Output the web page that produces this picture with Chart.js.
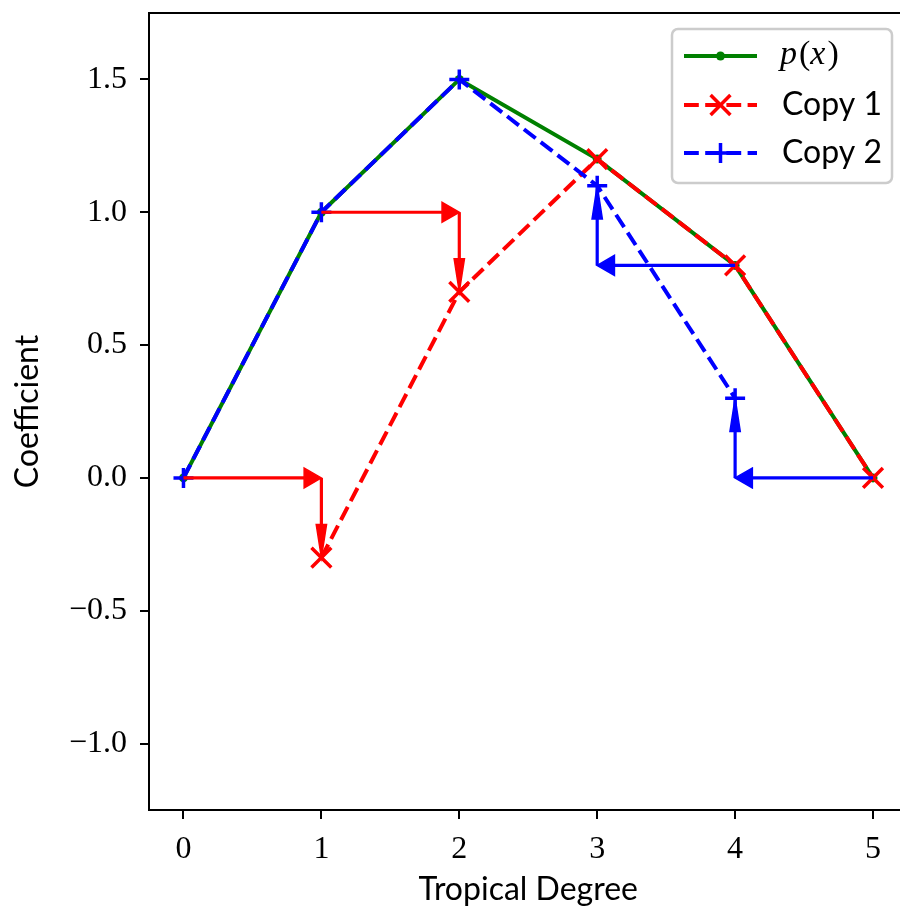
<!DOCTYPE html>
<html><head><meta charset="utf-8">
<script src="https://cdn.jsdelivr.net/npm/chart.js@4.4.1/dist/chart.umd.min.js"></script>
<style>
html,body{margin:0;padding:0;overflow:hidden;background:#fff;width:900px;height:909px}
#wrap{width:930px;height:909px;position:relative}
canvas{display:block}
</style></head>
<body><div id="wrap"><canvas id="c" width="930" height="909"></canvas></div>
<script>
// ---- data ----
const xTicks = [0, 1, 2, 3, 4, 5];
const yTicks = [-1.0, -0.5, 0, 0.5, 1.0, 1.5];
const pX = [0, 1, 2, 3, 4, 5];
const pY = [0, 1, 1.5, 1.2, 0.8, 0];
const copy1X = [1, 2, 3, 4, 5];
const copy1Y = [-0.3, 0.7, 1.2, 0.8, 0];
const copy2X = [0, 1, 2, 3, 4];
const copy2Y = [0, 1, 1.5, 1.1, 0.3];
const arrows1From = [[0, 0], [1, 0], [1, 1], [2, 1]];
const arrows1To   = [[1, 0], [1, -0.3], [2, 1], [2, 0.7]];
const arrows2From = [[5, 0], [4, 0], [4, 0.8], [3, 0.8]];
const arrows2To   = [[4, 0], [4, 0.3], [3, 0.8], [3, 1.1]];
const seriesLabels = ['p(x)', 'Copy 1', 'Copy 2'];
const xTitle = 'Tropical Degree';
const yTitle = 'Coefficient';

// ---- styles ----
const GREEN = '#008000', RED = '#ff0000', BLUE = '#0000ff';
const SANS = 'Lato, "Open Sans", sans-serif';
const SERIF = '"Liberation Serif", "DejaVu Serif", serif';
const HEAD_LEN = 0.125, HEAD_WID = 0.075;
const LW = 4;
const DASH = [14.8, 6.4];

const pts = (xs, ys) => xs.map((x, i) => ({x: x, y: ys[i]}));

const datasets = [
  {label: seriesLabels[0], data: pts(pX, pY), borderColor: GREEN, backgroundColor: GREEN,
   borderWidth: LW, pointStyle: 'circle', pointRadius: 4.5, pointBorderWidth: 0,
   pointBackgroundColor: GREEN, order: 3, tension: 0},
  {label: seriesLabels[1], data: pts(copy1X, copy1Y), borderColor: RED, backgroundColor: RED,
   borderWidth: LW, borderDash: DASH, pointStyle: 'crossRot', pointRadius: 14, pointBorderWidth: 3.5,
   pointBorderColor: RED, order: 2, tension: 0},
  {label: seriesLabels[2], data: pts(copy2X, copy2Y), borderColor: BLUE, backgroundColor: BLUE,
   borderWidth: LW, borderDash: DASH, pointStyle: 'cross', pointRadius: 10, pointBorderWidth: 3.5,
   pointBorderColor: BLUE, order: 1, tension: 0}
];

function drawArrow(ctx, xs, ys, from, to, color) {
  const x0 = xs.getPixelForValue(from[0]), y0 = ys.getPixelForValue(from[1]);
  const x1 = xs.getPixelForValue(to[0]), y1 = ys.getPixelForValue(to[1]);
  const horiz = from[1] === to[1];
  const pxX = Math.abs(xs.getPixelForValue(1) - xs.getPixelForValue(0));
  const pxY = Math.abs(ys.getPixelForValue(1) - ys.getPixelForValue(0));
  const hl = horiz ? HEAD_LEN * pxX : HEAD_LEN * pxY;
  const hw = (horiz ? HEAD_WID * pxY : HEAD_WID * pxX) / 2;
  const dx = x1 - x0, dy = y1 - y0, L = Math.hypot(dx, dy);
  const ux = dx / L, uy = dy / L, nx = -uy, ny = ux;
  const bx = x1 - ux * hl, by = y1 - uy * hl;
  ctx.strokeStyle = color; ctx.fillStyle = color;
  ctx.lineWidth = 3.2; ctx.setLineDash([]);
  ctx.beginPath(); ctx.moveTo(x0, y0); ctx.lineTo(bx, by); ctx.stroke();
  ctx.lineWidth = 1.5; ctx.lineJoin = 'miter';
  ctx.beginPath();
  ctx.moveTo(x1, y1);
  ctx.lineTo(bx + nx * hw, by + ny * hw);
  ctx.lineTo(bx - nx * hw, by - ny * hw);
  ctx.closePath(); ctx.fill(); ctx.stroke();
}

const arrowPlugin = {
  id: 'arrows',
  afterDatasetsDraw(chart) {
    const {ctx, chartArea, scales} = chart;
    ctx.save();
    ctx.beginPath();
    ctx.rect(chartArea.left, chartArea.top, chartArea.right - chartArea.left, chartArea.bottom - chartArea.top);
    ctx.clip();
    arrows1From.forEach((f, i) => drawArrow(ctx, scales.x, scales.y, f, arrows1To[i], RED));
    arrows2From.forEach((f, i) => drawArrow(ctx, scales.x, scales.y, f, arrows2To[i], BLUE));
    ctx.restore();
  }
};

const framePlugin = {
  id: 'frame',
  afterDraw(chart) {
    const {ctx, chartArea} = chart;
    ctx.save();
    ctx.strokeStyle = '#000'; ctx.lineWidth = 2;
    ctx.beginPath();
    ctx.moveTo(chartArea.left - 1, chartArea.top);
    ctx.lineTo(chartArea.right, chartArea.top);
    ctx.lineTo(chartArea.right, chartArea.bottom);
    ctx.stroke();
    ctx.restore();
  }
};

function marker(ctx, style, x, y, r) {
  ctx.beginPath();
  if (style === 'circle') { ctx.arc(x, y, r, 0, Math.PI * 2); ctx.fill(); return; }
  if (style === 'cross') {
    ctx.moveTo(x - r, y); ctx.lineTo(x + r, y); ctx.moveTo(x, y - r); ctx.lineTo(x, y + r);
  } else {
    const o = r * Math.cos(Math.PI / 4);
    ctx.moveTo(x - o, y - o); ctx.lineTo(x + o, y + o); ctx.moveTo(x - o, y + o); ctx.lineTo(x + o, y - o);
  }
  ctx.stroke();
}

const legendPlugin = {
  id: 'customLegend',
  afterDraw(chart) {
    const ctx = chart.ctx;
    const bx = 672, by = 29, bw = 220, bh = 154, rad = 6;
    ctx.save();
    ctx.beginPath();
    ctx.moveTo(bx + rad, by);
    ctx.arcTo(bx + bw, by, bx + bw, by + bh, rad);
    ctx.arcTo(bx + bw, by + bh, bx, by + bh, rad);
    ctx.arcTo(bx, by + bh, bx, by, rad);
    ctx.arcTo(bx, by, bx + bw, by, rad);
    ctx.closePath();
    ctx.fillStyle = 'rgba(255,255,255,0.8)'; ctx.fill();
    ctx.strokeStyle = '#cccccc'; ctx.lineWidth = 2.5; ctx.stroke();
    const rows = [56, 105, 153];
    chart.data.datasets.forEach((ds, i) => {
      const y = rows[i];
      ctx.strokeStyle = ds.borderColor; ctx.fillStyle = ds.borderColor;
      ctx.lineWidth = ds.borderWidth; ctx.setLineDash(ds.borderDash || []);
      ctx.beginPath(); ctx.moveTo(684, y); ctx.lineTo(757, y); ctx.stroke();
      ctx.setLineDash([]);
      ctx.lineWidth = ds.pointBorderWidth || 1;
      marker(ctx, ds.pointStyle, 720.5, y, ds.pointRadius);
      ctx.fillStyle = '#000';
      ctx.textBaseline = 'middle'; ctx.textAlign = 'left';
      if (i === 0) {
        let x = 780;
        const parts = [['p', 'italic'], ['(', 'normal'], ['x', 'italic'], [')', 'normal']];
        parts.forEach(([t, st]) => {
          ctx.font = st + ' 34px ' + SERIF;
          ctx.fillText(t, x, y - 1);
          x += ctx.measureText(t).width + (st === 'italic' ? 2 : 0);
        });
      } else {
        ctx.font = '32px ' + SANS;
        ctx.fillText(ds.label, 782, y);
      }
    });
    ctx.restore();
  }
};

const fmtY = v => (v < 0 ? '\u2212' : '') + Math.abs(v).toFixed(1);

new Chart(document.getElementById('c'), {
  type: 'line',
  data: {datasets: datasets},
  options: {
    responsive: false,
    animation: false,
    events: [],
    layout: {autoPadding: false, padding: {top: 13, right: 22.5, left: 0, bottom: 0}},
    plugins: {legend: {display: false}, tooltip: {enabled: false}},
    scales: {
      x: {
        type: 'linear', min: -0.25, max: 5.25,
        afterBuildTicks: s => { s.ticks = xTicks.map(v => ({value: v})); },
        afterFit: s => { s.height = 99; s.paddingLeft = 0; s.paddingRight = 0; },
        ticks: {color: '#000', font: {family: SERIF, size: 32}, padding: 11, callback: v => String(v), maxRotation: 0},
        grid: {drawOnChartArea: false, color: '#000', lineWidth: 2, tickLength: 9},
        border: {display: true, color: '#000', width: 2},
        title: {display: true, text: xTitle, color: '#000', font: {family: SANS, size: 32}, padding: {top: 0, bottom: 0}}
      },
      y: {
        type: 'linear', min: -1.25, max: 1.75,
        afterBuildTicks: s => { s.ticks = yTicks.map(v => ({value: v})); },
        afterFit: s => { s.width = 149; s.paddingTop = 0; s.paddingBottom = 0; },
        ticks: {color: '#000', font: {family: SERIF, size: 32}, padding: 13, callback: fmtY},
        grid: {drawOnChartArea: false, color: '#000', lineWidth: 2, tickLength: 9},
        border: {display: true, color: '#000', width: 2},
        title: {display: true, text: yTitle, color: '#000', font: {family: SANS, size: 32}, padding: {top: 8, bottom: 0}}
      }
    }
  },
  plugins: [arrowPlugin, framePlugin, legendPlugin]
});
</script>
</body></html>
